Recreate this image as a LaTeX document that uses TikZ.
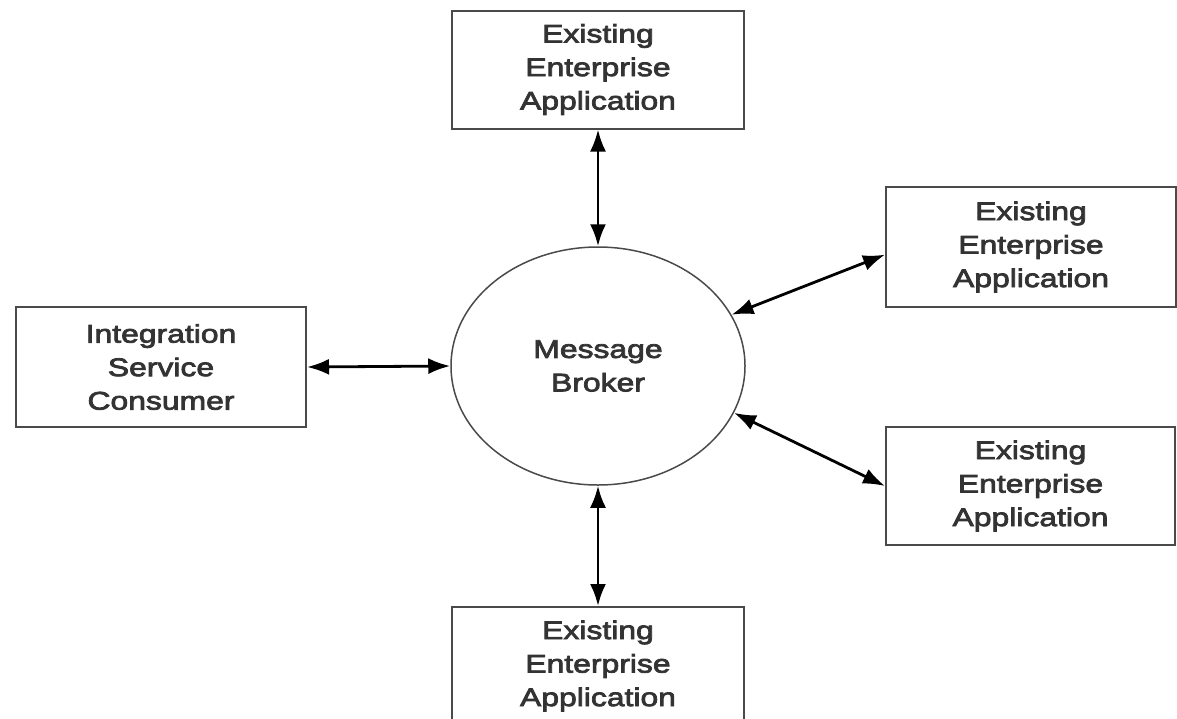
\documentclass[tikz,border=0pt]{standalone}
\usepackage{fontspec}
\setmainfont[FakeStretch=1.25,FakeBold=3]{Liberation Sans}
\usetikzlibrary{arrows.meta,shapes.geometric}
\definecolor{boxline}{HTML}{4A4A4A}
\definecolor{txt}{HTML}{333333}
\tikzset{
  appbox/.style={draw=boxline, line width=2pt, rectangle, inner sep=0pt,
    minimum width=292pt, minimum height=118pt, align=center,
    font=\fontsize{25.5pt}{33.5pt}\selectfont, text=txt},
  broker/.style={draw=boxline, line width=1.5pt, ellipse, inner sep=0pt,
    minimum width=294pt, minimum height=238pt, align=center,
    font=\fontsize{25.5pt}{33.5pt}\selectfont, text=txt},
  link/.style={line width=2.8pt, black,
    {Latex[length=22pt,width=16pt]}-{Latex[length=22pt,width=16pt]}}
}
\begin{document}
\begin{tikzpicture}[x=1pt,y=-1pt]
\useasboundingbox (0,0) rectangle (1177,718);
\clip (0,0) rectangle (1177,718);
\fill[white] (0,0) rectangle (1177,718);
\node[broker] (mb) at (598,366) {Message\\Broker};
\node[appbox] (top) at (598,69.5) {Existing\\Enterprise\\Application};
\node[appbox, minimum width=290pt, minimum height=120pt] (rt) at (1031,247) {Existing\\Enterprise\\Application};
\node[appbox, minimum width=289pt] (rb) at (1030.5,486) {Existing\\Enterprise\\Application};
\node[appbox, minimum width=290pt, minimum height=120pt] (isc) at (161,367) {Integration\\Service\\Consumer};
\node[appbox] (bot) at (598,666) {Existing\\Enterprise\\Application};
\draw[link] (top.south) -- (mb.north);
\draw[link] (isc.east) -- (mb.west);
\draw[link] (mb.south) -- (bot.north);
\draw[link] (mb.21) -- (rt.183);
\draw[link] (mb.-19) -- (rb.west);
\end{tikzpicture}
\end{document}
